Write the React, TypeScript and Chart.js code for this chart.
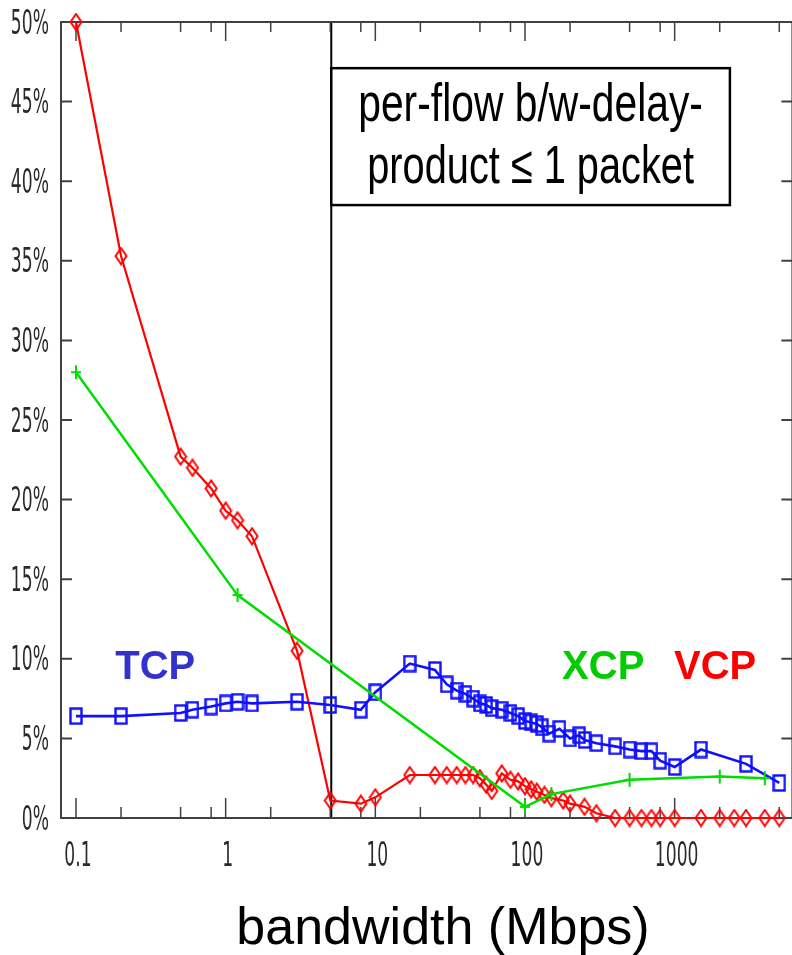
import React, { useEffect, useRef } from "react";
import { Chart, registerables } from "chart.js";

Chart.register(...registerables);

// ---------- data (bandwidth in Mbps, loss in %) ----------
const tcpBandwidth = [0.1, 0.2, 0.5, 0.6, 0.8, 1, 1.2, 1.5, 3, 5, 8, 10, 17, 25, 30, 35, 40, 45, 50, 55, 60, 70, 80, 90, 100, 110, 120, 130, 145, 170, 200, 230, 250, 300, 400, 500, 600, 700, 800, 1000, 1500, 3000, 5000];
const tcpLoss = [6.4, 6.4, 6.6, 6.8, 7.0, 7.2, 7.3, 7.2, 7.3, 7.1, 6.8, 7.9, 9.7, 9.3, 8.4, 8.0, 7.8, 7.5, 7.2, 7.1, 6.9, 6.8, 6.6, 6.4, 6.1, 6.0, 5.9, 5.7, 5.3, 5.6, 5.0, 5.2, 4.9, 4.7, 4.5, 4.3, 4.2, 4.2, 3.6, 3.2, 4.3, 3.4, 2.2];

const vcpBandwidth = [0.1, 0.2, 0.5, 0.6, 0.8, 1, 1.2, 1.5, 3, 5, 8, 10, 17, 25, 30, 35, 40, 45, 50, 55, 60, 70, 80, 90, 100, 110, 120, 135, 150, 180, 200, 250, 300, 400, 500, 600, 700, 800, 1000, 1500, 2000, 2500, 3000, 4000, 5000];
const vcpLoss = [50, 35.3, 22.7, 22.0, 20.7, 19.3, 18.7, 17.7, 10.5, 1.1, 0.9, 1.3, 2.7, 2.7, 2.7, 2.7, 2.7, 2.7, 2.5, 2.1, 1.7, 2.8, 2.4, 2.3, 2.0, 1.8, 1.65, 1.45, 1.25, 1.1, 0.9, 0.7, 0.3, 0, 0, 0, 0, 0, 0, 0, 0, 0, 0, 0, 0];

const xcpBandwidth = [0.1, 1.2, 100, 150, 500, 2000, 4000];
const xcpLoss = [28, 14, 0.7, 1.5, 2.4, 2.6, 2.5];

// ---------- axes ----------
const yTickValues = [0, 5, 10, 15, 20, 25, 30, 35, 40, 45, 50];
const yTickLabels = ["0%", "5%", "10%", "15%", "20%", "25%", "30%", "35%", "40%", "45%", "50%"];
const xMajorTicks = [0.1, 1, 10, 100, 1000];
const xTickLabels = ["0.1", "1", "10", "100", "1000"];
const xMinorTicks = [0.2, 0.5, 0.8, 2, 5, 8, 20, 50, 80, 200, 500, 800, 2000, 5000];
const X_MIN = 0.0794;
const X_MAX = 6120;
const Y_MIN = 0;
const Y_MAX = 50;
const xAxisTitle = "bandwidth (Mbps)";

// ---------- annotations ----------
const boundaryBandwidth = 5;
const noteLines = ["per-flow b/w-delay-", "product \u2264 1 packet"];
const noteBoxX = [5, 2340];
const noteBoxY = [38.5, 47.1];
const seriesNames = ["TCP", "XCP", "VCP"];
const seriesNameX = [0.183, 177, 990];
const seriesNameY = [8.7, 8.7, 8.7];
const seriesNameColors = ["#3333cc", "#00cc00", "#ff0000"];

const BLUE = "#1010ff";
const GREEN = "#00dd00";
const RED = "#ff0000";
const FRAME = "#404040";

function makeRect(color: string) {
  const c = document.createElement("canvas");
  c.width = 14;
  c.height = 18;
  const g = c.getContext("2d")!;
  g.strokeStyle = color;
  g.lineWidth = 2.4;
  g.strokeRect(1.5, 1.5, 11, 15);
  return c;
}
function makeDiamond(color: string) {
  const c = document.createElement("canvas");
  c.width = 14;
  c.height = 19;
  const g = c.getContext("2d")!;
  g.strokeStyle = color;
  g.lineWidth = 2;
  g.beginPath();
  g.moveTo(7, 1.5);
  g.lineTo(12.5, 9.5);
  g.lineTo(7, 17.5);
  g.lineTo(1.5, 9.5);
  g.closePath();
  g.stroke();
  return c;
}
function makePlus(color: string) {
  const c = document.createElement("canvas");
  c.width = 12;
  c.height = 16;
  const g = c.getContext("2d")!;
  g.strokeStyle = color;
  g.lineWidth = 2;
  g.beginPath();
  g.moveTo(1, 8);
  g.lineTo(11, 8);
  g.moveTo(6, 1);
  g.lineTo(6, 15);
  g.stroke();
  return c;
}

function drawScaled(ctx: CanvasRenderingContext2D, text: string, x: number, y: number, font: string, sx: number, align: CanvasTextAlign, baseline: CanvasTextBaseline, color: string) {
  ctx.save();
  ctx.font = font;
  ctx.fillStyle = color;
  ctx.textAlign = align;
  ctx.textBaseline = baseline;
  ctx.translate(x, y);
  ctx.scale(sx, 1);
  ctx.fillText(text, 0, 0);
  ctx.restore();
}

const TICK_FONT = "33px 'DejaVu Sans', sans-serif";
const TICK_SX = 0.52;

const decorations = {
  id: "decorations",
  beforeDatasetsDraw(chart: any) {
    const { ctx, chartArea: a } = chart;
    const x = chart.scales.x;
    const y = chart.scales.y;
    ctx.save();
    // boundary line
    const bx = x.getPixelForValue(boundaryBandwidth) + 1;
    ctx.strokeStyle = "#000";
    ctx.lineWidth = 2;
    ctx.beginPath();
    ctx.moveTo(bx, a.top);
    ctx.lineTo(bx, a.bottom);
    ctx.stroke();

    // frame
    ctx.strokeStyle = FRAME;
    ctx.lineWidth = 2;
    ctx.strokeRect(a.left, a.top, a.right - a.left, a.bottom - a.top);

    // y ticks + labels
    ctx.lineWidth = 2;
    yTickValues.forEach((v, i) => {
      const py = y.getPixelForValue(v);
      ctx.beginPath();
      ctx.moveTo(a.left, py);
      ctx.lineTo(a.left + 11, py);
      ctx.moveTo(a.right, py);
      ctx.lineTo(a.right - 11, py);
      ctx.stroke();
      drawScaled(ctx, yTickLabels[i], a.left - 12, py + 3, TICK_FONT, TICK_SX, "right", "middle", "#2a2a2a");
    });

    // x ticks
    ctx.lineWidth = 1.5;
    xMajorTicks.forEach((v, i) => {
      const px = x.getPixelForValue(v);
      ctx.beginPath();
      ctx.moveTo(px, a.bottom);
      ctx.lineTo(px, a.bottom - 20);
      ctx.moveTo(px, a.top);
      ctx.lineTo(px, a.top + 19);
      ctx.stroke();
      drawScaled(ctx, xTickLabels[i], px + 2, a.bottom + 39, TICK_FONT, TICK_SX, "center", "middle", "#2a2a2a");
    });
    xMinorTicks.forEach((v) => {
      const px = x.getPixelForValue(v);
      ctx.beginPath();
      ctx.moveTo(px, a.bottom);
      ctx.lineTo(px, a.bottom - 11);
      ctx.moveTo(px, a.top);
      ctx.lineTo(px, a.top + 10);
      ctx.stroke();
    });
    ctx.restore();
  },
  afterDatasetsDraw(chart: any) {
    const { ctx } = chart;
    const x = chart.scales.x;
    const y = chart.scales.y;
    ctx.save();
    // note box
    const l = x.getPixelForValue(noteBoxX[0]) + 1;
    const r = x.getPixelForValue(noteBoxX[1]);
    const t = y.getPixelForValue(noteBoxY[1]);
    const b = y.getPixelForValue(noteBoxY[0]);
    ctx.fillStyle = "#fff";
    ctx.fillRect(l, t, r - l, b - t);
    ctx.strokeStyle = "#000";
    ctx.lineWidth = 2.5;
    ctx.strokeRect(l, t, r - l, b - t);
    const cx = (l + r) / 2;
    drawScaled(ctx, noteLines[0], cx, t + 53, "53px 'Liberation Sans', Arial, sans-serif", 0.77, "center", "alphabetic", "#000");
    drawScaled(ctx, noteLines[1], cx, t + 115, "53px 'Liberation Sans', Arial, sans-serif", 0.75, "center", "alphabetic", "#000");

    // series names
    seriesNames.forEach((name, i) => {
      drawScaled(ctx, name, x.getPixelForValue(seriesNameX[i]), y.getPixelForValue(seriesNameY[i]), "bold 40px 'Liberation Sans', Arial, sans-serif", 1, "left", "alphabetic", seriesNameColors[i]);
    });

    // x-axis title
    drawScaled(ctx, xAxisTitle, 443, 944, "52px 'Liberation Sans', Arial, sans-serif", 1, "center", "alphabetic", "#000");
    ctx.restore();
  },
};

export default function App() {
  const ref = useRef<HTMLCanvasElement>(null);
  useEffect(() => {
    const canvas = ref.current!;
    const toPts = (xs: number[], ys: number[]) => xs.map((v, i) => ({ x: v, y: ys[i] }));
    const chart = new Chart(canvas, {
      type: "line",
      data: {
        datasets: [
          {
            label: "XCP",
            data: toPts(xcpBandwidth, xcpLoss),
            borderColor: GREEN,
            borderWidth: 2.5,
            pointStyle: makePlus(GREEN) as any,
            pointRadius: 5,
            tension: 0,
            clip: false as any,
          },
          {
            label: "TCP",
            data: toPts(tcpBandwidth, tcpLoss),
            borderColor: BLUE,
            borderWidth: 2.6,
            pointStyle: makeRect(BLUE) as any,
            pointRadius: 5,
            tension: 0,
            clip: false as any,
          },
          {
            label: "VCP",
            data: toPts(vcpBandwidth, vcpLoss),
            borderColor: RED,
            borderWidth: 2.2,
            pointStyle: makeDiamond(RED) as any,
            pointRadius: 5,
            tension: 0,
            clip: false as any,
          },
        ],
      },
      options: {
        responsive: false,
        animation: false,
        devicePixelRatio: 1,
        layout: { padding: { left: 61, top: 22, right: 6, bottom: 137 } },
        plugins: { legend: { display: false }, tooltip: { enabled: false } },
        events: [],
        scales: {
          x: { type: "logarithmic", min: X_MIN, max: X_MAX, display: false },
          y: { type: "linear", min: Y_MIN, max: Y_MAX, display: false },
        },
      },
      plugins: [decorations],
    });
    return () => chart.destroy();
  }, []);
  return (
    <div style={{ position: "fixed", left: 0, top: 0, width: 792, height: 955, overflow: "hidden", background: "#fff" }}>
      <canvas ref={ref} width={800} height={955} style={{ display: "block", width: 800, height: 955 }} />
    </div>
  );
}
